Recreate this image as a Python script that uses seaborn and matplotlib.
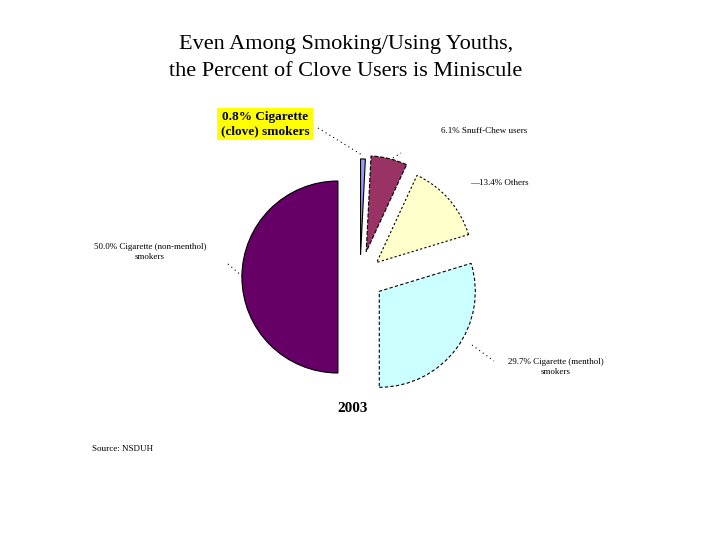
import matplotlib
matplotlib.use("Agg")
import matplotlib.pyplot as plt
import seaborn as sns

sns.set_theme(style="white")
plt.rcParams['font.family'] = ['Liberation Serif', 'DejaVu Serif']
plt.rcParams['text.color'] = 'black'

categories = ["Cigarette (clove) smokers", "Snuff/Chew users", "Others",
              "Cigarette (menthol) smokers", "Cigarette (non-menthol) smokers"]
values = [0.8, 6.1, 13.4, 29.7, 50.0]
colors = ["#9999FF", "#993366", "#FFFFCC", "#CCFFFF", "#660066"]
explode_frac = [0.23, 0.27, 0.23, 0.25, 0.23]
title_lines = ["Even Among Smoking/Using Youths,", "the Percent of Clove Users is Miniscule"]
year = "2003"
source = "Source: NSDUH"

W, H = 720, 540
R = 96
fig = plt.figure(figsize=(7.2, 5.4), dpi=100)
ax = fig.add_axes([0, 0, 1, 1])

def Y(y):
    return H - y

wedges, _ = ax.pie(values, colors=colors, explode=[e * R for e in explode_frac],
                   startangle=90, counterclock=False, radius=R,
                   center=(360, Y(277)), frame=True)
ax.set_xlim(0, W)
ax.set_ylim(0, H)
ax.set_aspect("equal")
ax.axis("off")
styles = ["-", "--", (0, (2, 2)), (0, (3, 2)), "-"]
for w, ls in zip(wedges, styles):
    w.set_edgecolor("black")
    w.set_linewidth(0.8)
    w.set_linestyle(ls)

# Title
ax.text(346, Y(45), title_lines[0], ha="center", va="center", fontsize=16)
ax.text(346, Y(72), title_lines[1], ha="center", va="center", fontsize=16)

small = 6.5
dot = (0, (1, 3))
# Clove label
ax.text(265, Y(124), f"{values[0]}% Cigarette\n(clove) smokers", ha="center", va="center",
        fontsize=9.5, fontweight="bold", color="#000033", linespacing=1.2,
        bbox=dict(boxstyle="square,pad=0.25", facecolor="#FFFF00", edgecolor="none"))
ax.plot([318, 362], [Y(128), Y(155)], color="black", linestyle=dot, linewidth=0.8)

# Snuff label
ax.text(441, Y(131), f"{values[1]}% Snuff-Chew users", ha="left", va="center", fontsize=small)
ax.plot([393, 401], [Y(158), Y(153)], color="black", linestyle=dot, linewidth=0.8)

# Others label
ax.text(470, Y(183), f"\u2014{values[2]}% Others", ha="left", va="center", fontsize=small)

# Non-menthol label
ax.text(150, Y(252), f"{values[4]:.1f}% Cigarette (non-menthol)\nsmokers", ha="center",
        va="center", fontsize=small, linespacing=1.4)
ax.plot([228, 242], [Y(264), Y(276)], color="black", linestyle=dot, linewidth=0.8)

# Menthol label
ax.text(556, Y(367), f"{values[3]}% Cigarette (menthol)\nsmokers", ha="center",
        va="center", fontsize=small, linespacing=1.4)
ax.plot([472, 494], [Y(345), Y(361)], color="black", linestyle=dot, linewidth=0.8)

ax.text(353, Y(408), year, ha="center", va="center", fontsize=11, fontweight="bold")
ax.text(92, Y(449), source, ha="left", va="center", fontsize=6.5)

fig.savefig("out.png", dpi=100, facecolor="white")
